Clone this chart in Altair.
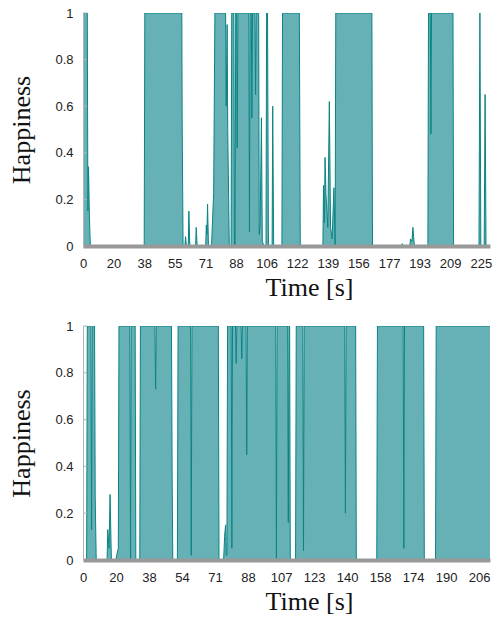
import json
import altair as alt
import pandas as pd

# ---- data (sample index, 10 samples per labelled tick) ----
p1_t = [0.1, 0.2, 1.4, 1.6, 1.8, 2.1, 2.4,
        20.0, 20.2, 32.3, 32.4, 32.7,
        33.3, 33.5, 33.8, 34.4, 34.6, 34.9,
        36.8, 37.0, 37.3,
        40.1, 40.3, 40.5, 40.7, 41.0,
        42.0, 42.7, 43.1,
        46.6, 46.8, 47.1, 47.3, 47.8, 48.4, 48.6,
        49.3, 49.5, 49.7, 49.9,
        50.2, 50.4, 50.6,
        54.2, 54.4, 54.6,
        55.0, 55.2, 55.4,
        56.2, 56.4, 56.6,
        57.4, 57.6, 57.9, 58.3, 58.6, 59.1,
        59.8, 60.0, 60.3, 60.6,
        61.8, 62.0, 62.3,
        65.0, 65.2, 70.7, 71.0,
        78.4, 78.6, 78.9, 79.1, 79.4, 80.0, 80.5, 80.9, 81.4, 82.0, 82.4, 82.6,
        94.4, 94.6,
        104.2, 104.3, 104.5, 106.8, 107.0, 107.5, 107.8, 108.3,
        112.7, 112.9, 113.5, 113.7, 113.9, 120.9, 121.1,
        129.4, 129.7, 130.0, 131.1, 131.4, 131.7, 133.0]
p1_v = [0.0, 1.0, 1.0, 0.15, 0.34, 0.12, 0.0,
        0.0, 1.0, 1.0, 0.55, 0.0,
        0.0, 0.04, 0.0, 0.0, 0.15, 0.0,
        0.0, 0.08, 0.0,
        0.0, 0.09, 0.05, 0.18, 0.0,
        0.0, 0.23, 1.0,
        1.0, 0.6, 0.95, 0.5, 0.0, 0.0, 1.0,
        1.0, 0.0, 0.0, 1.0,
        1.0, 0.42, 1.0,
        1.0, 0.06, 1.0,
        1.0, 0.55, 1.0,
        1.0, 0.65, 1.0,
        1.0, 0.05, 0.1, 0.55, 0.02, 0.0,
        0.0, 1.0, 1.0, 0.0,
        0.0, 0.6, 0.0,
        0.0, 1.0, 1.0, 0.0,
        0.0, 0.26, 0.1, 0.38, 0.22, 0.08, 0.62, 0.08, 0.03, 0.25, 0.0, 1.0,
        1.0, 0.0,
        0.0, 0.01, 0.0, 0.0, 0.03, 0.02, 0.08, 0.0,
        0.0, 1.0, 1.0, 0.48, 1.0, 1.0, 0.0,
        0.0, 1.0, 0.0, 0.0, 0.65, 0.0, 0.0]

p2_t = [0.0, 1.1, 1.3, 2.4, 2.6, 2.8, 3.5, 3.7, 4.0,
        7.3, 7.5, 7.9, 8.2, 8.6,
        10.0, 10.2, 10.7, 10.9,
        14.2, 14.4, 14.6, 15.8, 16.0,
        17.2, 17.4, 21.8, 22.0, 22.2, 26.8, 27.0, 27.2,
        28.6, 28.8, 32.6, 32.8, 33.0, 41.0, 41.2,
        42.6, 42.9, 43.2, 43.4, 43.6, 43.8,
        44.9, 45.1, 45.3,
        46.2, 46.4, 46.6,
        47.9, 48.1, 48.3,
        49.4, 49.6, 49.8,
        58.4, 58.6, 58.8,
        62.0, 62.2, 62.4, 62.6, 62.8,
        64.4, 64.6,
        66.6, 66.8, 67.0,
        79.3, 79.5, 79.7,
        82.6, 82.8,
        89.0, 89.2,
        97.0, 97.2, 97.4,
        103.2, 103.4,
        106.8, 107.0, 123.3]
p2_v = [0.0, 0.0, 1.0, 1.0, 0.13, 1.0, 1.0, 0.27, 0.0,
        0.0, 0.13, 0.05, 0.28, 0.0,
        0.0, 0.02, 0.05, 1.0,
        1.0, 0.0, 1.0, 1.0, 0.0,
        0.0, 1.0, 1.0, 0.73, 1.0, 1.0, 0.38, 0.0,
        0.0, 1.0, 1.0, 0.02, 1.0, 1.0, 0.0,
        0.0, 0.1, 0.15, 0.02, 0.02, 1.0,
        1.0, 0.05, 1.0,
        1.0, 0.84, 1.0,
        1.0, 0.86, 1.0,
        1.0, 0.45, 1.0,
        1.0, 0.0, 1.0,
        1.0, 0.16, 1.0, 1.0, 0.0,
        0.0, 1.0,
        1.0, 0.04, 1.0,
        1.0, 0.2, 1.0,
        1.0, 0.0,
        0.0, 1.0,
        1.0, 0.05, 1.0,
        1.0, 0.0,
        0.0, 1.0, 1.0]

p1_tick_pos = [0, 10, 20, 30, 40, 50, 60, 70, 80, 90, 100, 110, 120, 130]
p1_tick_labels = ["0", "20", "38", "55", "71", "88", "106", "122", "139",
                  "156", "177", "193", "209", "225"]
p2_tick_pos = [0, 10, 20, 30, 40, 50, 60, 70, 80, 90, 100, 110, 120]
p2_tick_labels = ["0", "20", "38", "54", "71", "88", "107", "123", "140",
                  "158", "174", "190", "206"]
y_ticks = [0, 0.2, 0.4, 0.6, 0.8, 1.0]
y_inner_ticks = [0.2, 0.4, 0.6, 0.8, 1.0]

FILL = "#66b1b6"
LINE = "#0a8383"
W = 407


def panel(t, v, tick_pos, tick_labels, xmax, h):
    df = pd.DataFrame({"t": t, "v": v})
    label_expr = json.dumps(tick_labels) + "[round(datum.value / 10)]"
    x = alt.X("t:Q",
              scale=alt.Scale(domain=[0, xmax], nice=False, zero=False),
              axis=alt.Axis(values=tick_pos, labelExpr=label_expr,
                            title="Time [s]", ticks=False, tickSize=0,
                            labelPadding=11, labelFlush=False,
                            domainColor="#999999", domainWidth=4,
                            zindex=1, titlePadding=4, titleX=226))
    y = alt.Y("v:Q",
              scale=alt.Scale(domain=[0, 1], nice=False),
              axis=alt.Axis(values=y_ticks, format="~g", title="Happiness",
                            ticks=False, tickSize=0, labelPadding=10,
                            domainColor="#b3b3b3", domainWidth=1,
                            zindex=1, titlePadding=20))
    base = alt.Chart(df).encode(x=x, y=y)
    area = base.mark_area(color=FILL, opacity=1, interpolate="linear", clip=True)
    line = base.mark_line(color=LINE, strokeWidth=1, clip=True)
    tk = alt.Chart(pd.DataFrame({"v": y_inner_ticks})).mark_rule(
        color="#b3b3b3", strokeWidth=1).encode(
        y=y, x=alt.value(0), x2=alt.value(4))
    return alt.layer(area, line, tk).properties(width=W, height=h)


top = panel(p1_t, p1_v, p1_tick_pos, p1_tick_labels, 133, 233)
bottom = panel(p2_t, p2_v, p2_tick_pos, p2_tick_labels, 123.3, 234)

chart = alt.vconcat(top, bottom, spacing=20).properties(
    padding={"left": 0, "top": -1, "right": 0, "bottom": 0}
).configure_view(stroke=None).configure_axis(
    labelFont="Liberation Sans", labelFontSize=13, labelColor="#222222",
    titleFont="Liberation Serif", titleFontSize=26, titleFontWeight="normal",
    titleColor="#111111", grid=False)

chart.save("out.html", embed_options={"renderer": "svg", "actions": False})
